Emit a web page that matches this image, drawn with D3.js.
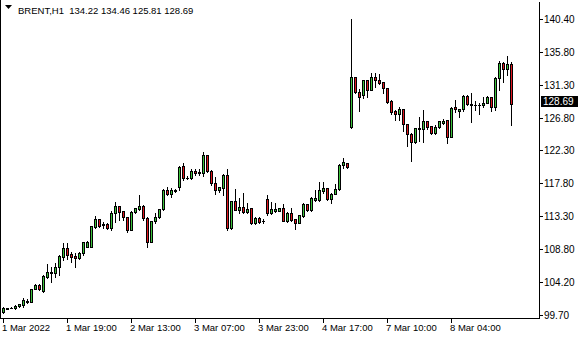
<!DOCTYPE html>
<html lang="en">
<head>
<meta http-equiv="Content-Type" content="text/html; charset=utf-8" />
<title>BRENT,H1</title>
<style>
   body { margin:0px; padding:0px; background:white; }
   svg { display:block; }
   text { font-family:"Liberation Sans",Arial,sans-serif; fill:black; }
   .price text { font-size:10px; }
   .time text { font-size:9.5px; }
</style>
<script src="https://d3js.org/d3.v7.min.js"></script>
</head>
<body>
<svg id="main" width="580" height="340"></svg>
<script>
// hourly bars
var opens = [100.13,100.55,100.64,100.59,100.86,101.00,101.50,101.51,103.29,103.80,103.02,104.95,105.40,105.40,106.23,107.70,
   108.84,108.06,107.83,107.47,108.15,109.07,109.07,111.82,112.83,112.19,112.19,111.69,113.66,114.62,113.93,113.15,
   111.36,113.79,114.30,114.67,113.02,109.76,112.56,113.11,114.21,116.82,116.32,116.78,117.33,120.17,118.47,118.47,
   119.53,119.39,119.25,121.63,119.53,117.78,116.87,117.10,118.93,111.59,115.35,114.12,114.57,113.89,114.35,112.28,
   113.02,112.55,115.58,113.66,113.98,114.02,114.39,112.65,113.70,112.83,112.37,113.34,114.89,114.12,115.49,115.49,
   116.78,117.10,115.58,116.32,116.96,120.26,120.53,125.49,132.36,130.30,129.89,131.95,130.67,132.36,132.00,131.68,
   130.85,129.15,127.78,127.27,128.01,125.90,124.57,123.42,125.30,125.30,126.36,125.62,124.66,125.49,126.04,126.50,
   124.20,128.24,127.78,127.96,129.80,128.60,128.55,128.60,128.56,128.88,129.61,128.24,132.27,134.29,133.46,134.22];
var highs = [100.75,100.70,100.78,101.05,101.25,102.01,101.92,103.30,104.00,104.00,105.20,106.64,106.32,106.78,107.90,109.62,
   109.62,108.38,108.15,108.30,109.75,109.80,111.95,113.29,112.90,112.51,112.30,113.98,115.26,114.70,114.00,113.20,
   113.95,114.45,116.18,114.80,113.10,112.60,113.75,114.30,116.95,117.33,117.10,117.00,120.17,120.53,118.79,119.80,
   119.71,119.71,122.05,121.70,119.60,118.70,117.30,119.00,119.71,115.40,116.96,115.72,116.50,115.03,114.40,113.10,
   113.10,112.83,116.18,115.17,115.03,114.45,114.94,113.89,114.35,112.90,113.45,115.12,114.95,115.85,116.87,117.92,
   117.92,117.15,116.40,117.65,120.40,121.27,120.60,140.45,132.40,130.71,132.00,132.00,133.01,133.01,132.82,131.70,
   130.90,129.20,127.85,128.28,128.05,125.95,124.75,125.45,126.95,127.87,126.40,125.70,125.81,126.35,126.59,126.55,
   128.33,129.25,128.00,129.93,129.93,130.16,129.15,128.79,129.70,129.80,129.65,132.45,134.61,134.52,135.30,134.46];
var lows = [100.00,100.50,100.60,100.55,100.80,100.82,101.37,101.45,103.20,103.10,102.88,104.72,104.26,104.95,105.17,107.24,
   107.33,107.01,106.32,107.35,107.93,109.00,109.00,111.59,111.73,111.59,111.55,111.36,112.51,112.74,112.74,111.14,
   111.30,113.70,114.12,112.74,109.07,109.70,112.28,112.97,114.15,116.18,115.95,116.64,116.87,118.24,118.33,118.33,
   118.93,118.93,118.84,119.34,117.55,116.27,116.64,116.18,111.36,111.50,114.05,113.75,113.75,113.75,112.25,112.20,
   112.28,112.28,113.43,113.56,113.89,113.95,112.60,112.51,112.65,111.55,112.28,113.20,114.02,113.93,115.40,115.40,
   116.50,115.49,115.03,116.30,116.90,119.85,119.85,125.45,130.20,127.78,129.48,129.70,130.62,131.08,131.45,130.16,
   128.88,127.27,126.50,126.50,125.03,122.96,120.90,123.29,123.61,123.51,125.21,124.57,124.57,125.35,125.99,123.29,
   124.15,127.64,126.95,127.73,128.56,126.27,127.87,127.32,128.33,128.79,127.78,127.87,130.62,131.77,132.64,125.81];
var closes = [100.68,100.62,100.70,100.96,101.14,101.74,101.64,103.25,103.80,103.20,105.04,105.59,105.59,106.23,107.74,108.84,
   107.97,107.70,107.47,108.15,109.67,109.67,111.87,112.83,111.96,112.01,111.69,113.66,114.62,113.89,113.11,111.36,
   113.89,114.35,114.67,112.97,109.76,112.56,113.11,114.21,116.87,116.32,116.87,116.80,120.08,118.47,118.50,119.48,
   119.16,119.16,121.63,119.53,117.78,116.87,117.23,118.93,111.59,115.35,114.12,114.57,113.89,114.21,112.28,113.02,
   112.42,112.62,113.66,114.21,114.21,114.39,112.65,113.70,112.74,112.37,113.38,114.89,114.12,115.77,115.81,116.87,
   117.14,115.58,116.32,116.96,120.31,120.72,120.08,132.36,130.30,129.70,131.95,130.67,132.36,132.04,131.63,130.85,
   129.02,127.64,127.27,128.01,125.90,124.57,123.51,125.39,125.45,126.36,125.49,124.66,125.53,126.31,126.36,124.20,
   128.10,127.96,127.96,129.80,128.65,128.65,128.51,128.62,128.88,129.61,128.33,132.27,134.29,133.46,134.15,128.69];

var timeTicks = [0,16,32,48,64,80,96,112];
var timeLabels = ['1 Mar 2022','1 Mar 19:00','2 Mar 13:00','3 Mar 07:00','3 Mar 23:00','4 Mar 17:00','7 Mar 10:00','8 Mar 04:00'];
var priceTicks = [140.40,135.80,131.30,126.80,122.30,117.80,113.30,108.80,104.20,99.70];
var symbol = 'BRENT,H1';

var c_up = '#3cc23c', c_down = '#e0161e';
var frameRight = 539, frameBottom = 318;

var svg = d3.select('#main');
var x = d3.scaleLinear().domain([0, closes.length-1]).range([3, 3+4*(closes.length-1)]);
var y = d3.scaleLinear().domain([99.70, 140.40]).range([314.8, 18.9]);
function fpy(v) { return Math.round(y(v)); };

// frame
svg.append('path')
   .attr('d', 'M0.5,0V'+(frameBottom+0.5)+'H'+(frameRight+0.5)+'V2')
   .attr('fill','none').attr('stroke','black').attr('shape-rendering','crispEdges');

// candles
var bars = d3.range(closes.length).map(function(i) {
   return {i:i, o:opens[i], h:highs[i], l:lows[i], c:closes[i]};
});
var g = svg.append('g').attr('shape-rendering','crispEdges');
var cg = g.selectAll('g').data(bars).enter().append('g');
cg.append('rect')
   .attr('x', function(d) { return x(d.i); })
   .attr('y', function(d) { return fpy(d.h); })
   .attr('width', 1)
   .attr('height', function(d) { return Math.max(1, fpy(d.l)-fpy(d.h)+1); })
   .attr('fill','black');
cg.append('rect')
   .attr('x', function(d) { return x(d.i)-1; })
   .attr('y', function(d) { return fpy(Math.max(d.o,d.c)); })
   .attr('width', 3)
   .attr('height', function(d) { return Math.max(1, fpy(Math.min(d.o,d.c))-fpy(Math.max(d.o,d.c))+1); })
   .attr('fill','black');
cg.filter(function(d) { return fpy(Math.min(d.o,d.c))-fpy(Math.max(d.o,d.c)) > 1; })
   .append('rect')
   .attr('x', function(d) { return x(d.i); })
   .attr('y', function(d) { return fpy(Math.max(d.o,d.c))+1; })
   .attr('width', 1)
   .attr('height', function(d) { return fpy(Math.min(d.o,d.c))-fpy(Math.max(d.o,d.c))-1; })
   .attr('fill', function(d) { return d.c>=d.o ? c_up : c_down; });

// price scale
var pg = svg.append('g').attr('class','price');
pg.selectAll('line').data(priceTicks).enter().append('line')
   .attr('x1', frameRight).attr('x2', frameRight+4)
   .attr('y1', function(d) { return fpy(d)+0.5; }).attr('y2', function(d) { return fpy(d)+0.5; })
   .attr('stroke','black').attr('shape-rendering','crispEdges');
pg.selectAll('text').data(priceTicks).enter().append('text')
   .attr('x', frameRight+5)
   .attr('y', function(d) { return fpy(d)+4; })
   .text(function(d) { return d.toFixed(2); });

// last price marker
var last = closes[closes.length-1];
pg.append('rect').attr('x', frameRight+2).attr('y', fpy(last)-8).attr('width', 37).attr('height', 11).attr('fill','black');
pg.append('text').attr('x', frameRight+4).attr('y', fpy(last)+1).style('fill','white').text(last.toFixed(2));

// time scale
var tg = svg.append('g').attr('class','time');
tg.selectAll('line').data(timeTicks).enter().append('line')
   .attr('x1', function(d) { return x(d)+0.5; }).attr('x2', function(d) { return x(d)+0.5; })
   .attr('y1', frameBottom).attr('y2', frameBottom+5)
   .attr('stroke','black').attr('shape-rendering','crispEdges');
tg.selectAll('text').data(timeTicks).enter().append('text')
   .attr('x', function(d) { return x(d)-1; })
   .attr('y', frameBottom+13)
   .text(function(d,k) { return timeLabels[k]; });

// header
var n = closes.length-1;
svg.append('path').attr('d','M5,5H12L8.5,9Z').attr('fill','black');
svg.append('text').attr('x',18).attr('y',14).style('font-size','9.5px')
   .text(symbol+'  '+[opens[n],highs[n],lows[n],closes[n]].map(function(v) { return v.toFixed(2); }).join(' '))
   .attr('xml:space','preserve');
</script>
</body>
</html>
